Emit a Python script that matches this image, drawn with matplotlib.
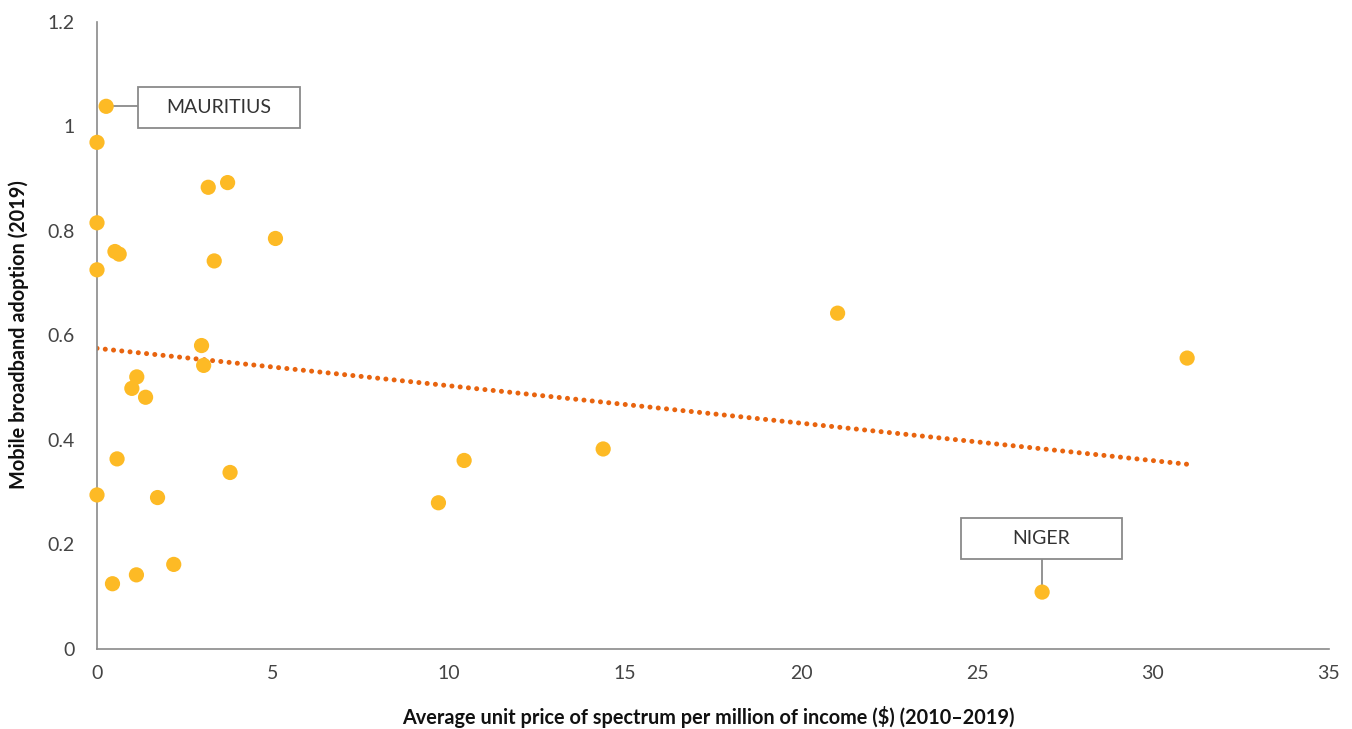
import numpy as np
import matplotlib
matplotlib.use("Agg")
import matplotlib.pyplot as plt
from matplotlib.patches import Rectangle

# Data
price = [0.26, 0.0, 3.16, 3.71, 0.0, 0.51, 0.63, 0.0, 3.33, 5.07,
         2.97, 3.03, 1.13, 0.99, 1.38, 0.57, 3.78, 0.0, 1.72, 2.18,
         1.12, 0.44, 9.70, 10.43, 14.38, 21.04, 26.85, 30.97]
adoption = [1.038, 0.969, 0.883, 0.892, 0.815, 0.760, 0.755, 0.725, 0.742, 0.785,
            0.580, 0.542, 0.520, 0.498, 0.481, 0.363, 0.337, 0.294, 0.289, 0.161,
            0.141, 0.124, 0.279, 0.360, 0.382, 0.642, 0.108, 0.556]
labels = ["MAURITIUS", "NIGER"]
label_index = [0, 26]
xticks = [0, 5, 10, 15, 20, 25, 30, 35]
yticks = [0, 0.2, 0.4, 0.6, 0.8, 1.0, 1.2]
ytick_labels = ["0", "0.2", "0.4", "0.6", "0.8", "1", "1.2"]

plt.rcParams['font.family'] = ['Lato', 'DejaVu Sans']

fig = plt.figure(figsize=(13.52, 7.29), dpi=100)
ax = fig.add_axes([97/1352, 1-648.5/729, (1329-97)/1352, (648.5-21.7)/729])

x = np.array(price)
y = np.array(adoption)

# linear trendline
m, b = np.polyfit(x, y, 1)
xs = np.array([x.min(), x.max()])
ax.plot(xs, m*xs + b, color='#E8640F', lw=3.6, linestyle=(0, (0.01, 1.65)),
        dash_capstyle='round', zorder=2)

ax.scatter(x, y, s=120, color='#FDBA25', edgecolors='none', zorder=3, clip_on=False)

ax.set_xlim(0, 35)
ax.set_ylim(0, 1.2)
ax.set_xticks(xticks)
ax.set_xticklabels([str(t) for t in xticks])
ax.set_yticks(yticks)
ax.set_yticklabels(ytick_labels)
ax.tick_params(length=0, labelsize=14, labelcolor='#444444')
ax.tick_params(axis='y', pad=16)
ax.tick_params(axis='x', pad=12)
for s in ['top', 'right']:
    ax.spines[s].set_visible(False)
for s in ['left', 'bottom']:
    ax.spines[s].set_color('#8a8a8a')
    ax.spines[s].set_linewidth(1.2)

fig.text(708/1352, 1-717/729,
         "Average unit price of spectrum per million of income ($) (2010\u20132019)",
         fontsize=14.3, fontweight='bold', color='#111111', ha='center', va='center')
fig.text(19/1352, 1-335/729, "Mobile broadband adoption (2019)", fontsize=14.3,
         fontweight='bold', color='#111111', ha='center', va='center', rotation=90)

# Annotation boxes (positions in data units)
boxes = [(1.165, 0.9966, 4.60, 0.0785), (24.55, 0.1714, 4.57, 0.0785)]
edge = '#8a8a8a'
# MAURITIUS
bx, by, bw, bh = boxes[0]
i = label_index[0]
ax.add_patch(Rectangle((bx, by), bw, bh, facecolor='white', edgecolor=edge, lw=1.3, zorder=4))
ax.text(bx + bw/2, by + bh/2, labels[0], ha='center', va='center', fontsize=14,
        color='#333333', zorder=5)
ax.plot([x[i], bx], [y[i], y[i]], color=edge, lw=1.3, zorder=2)
# NIGER
bx, by, bw, bh = boxes[1]
i = label_index[1]
ax.add_patch(Rectangle((bx, by), bw, bh, facecolor='white', edgecolor=edge, lw=1.3, zorder=4))
ax.text(bx + bw/2, by + bh/2, labels[1], ha='center', va='center', fontsize=14,
        color='#333333', zorder=5)
ax.plot([x[i], x[i]], [by, y[i]], color=edge, lw=1.3, zorder=2)

fig.savefig("out.png", dpi=100)
